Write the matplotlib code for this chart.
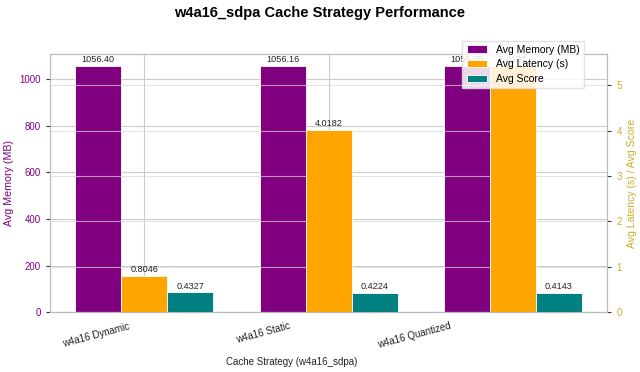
import matplotlib
matplotlib.use("Agg")
import matplotlib.pyplot as plt
import numpy as np

plt.rcParams['font.family'] = ['Liberation Sans', 'DejaVu Sans']

categories = ["w4a16 Dynamic", "w4a16 Static", "w4a16 Quantized"]
avg_memory = [1056.40, 1056.16, 1056.25]
avg_latency = [0.8046, 4.0182, 5.4194]
avg_score = [0.4327, 0.4224, 0.4143]

c_mem = '#800080'
c_lat = '#FFA500'
c_score = '#008080'
c_right = '#cfae2a'
grid_c = '#cccccc'

fig, ax = plt.subplots(figsize=(6.4, 3.72), dpi=100)
fig.subplots_adjust(left=0.078, right=0.949, top=0.855, bottom=0.161)
ax2 = ax.twinx()

x = np.arange(len(categories))
w = 0.25

b1 = ax.bar(x - w, avg_memory, w, color=c_mem, edgecolor='white', linewidth=0.6, label='Avg Memory (MB)')
b2 = ax2.bar(x, avg_latency, w, color=c_lat, edgecolor='white', linewidth=0.6, label='Avg Latency (s)')
b3 = ax2.bar(x + w, avg_score, w, color=c_score, edgecolor='white', linewidth=0.6, label='Avg Score')

ax.set_ylim(0, max(avg_memory) * 1.05)
ax2.set_ylim(0, max(avg_latency) * 1.05)

for rect, v in zip(b1, avg_memory):
    ax.text(rect.get_x() + rect.get_width() / 2, rect.get_height() + 8, f"{v:.2f}",
            ha='center', va='bottom', fontsize=6.6, color='#222222')
for rect, v in zip(b2, avg_latency):
    ax2.text(rect.get_x() + rect.get_width() / 2, rect.get_height() + 0.04, f"{v:.4f}",
             ha='center', va='bottom', fontsize=6.6, color='#222222')
for rect, v in zip(b3, avg_score):
    ax2.text(rect.get_x() + rect.get_width() / 2, rect.get_height() + 0.04, f"{v:.4f}",
             ha='center', va='bottom', fontsize=6.6, color='#222222')

ax.set_axisbelow(True)
ax2.set_axisbelow(True)
ax.grid(True, color=grid_c, linewidth=0.8)
ax2.grid(True, axis='y', color='#d8d8d8', linewidth=0.8, alpha=0.7)

ax.set_xticks(x)
ax.set_xticklabels([''] * len(categories))
xform = ax.get_xaxis_transform()
for i, (xi, cat) in enumerate(zip(x, categories)):
    ax.annotate(cat, xy=(xi, 0), xycoords=xform,
                xytext=(-14 - 23.5 * i, -9), textcoords='offset pixels',
                ha='right', va='top', rotation=15, fontsize=7, color='#222222',
                annotation_clip=False)

ax.set_xlabel("Cache Strategy (w4a16_sdpa)", fontsize=7, color='#222222')
ax.xaxis.set_label_coords(0.4335, -0.172)
ax.set_ylabel("Avg Memory (MB)", fontsize=7.7, color=c_mem)
ax2.set_ylabel("Avg Latency (s) / Avg Score", fontsize=7.6, color=c_right)
ax.tick_params(axis='y', labelsize=7, colors=c_mem, length=3)
ax.tick_params(axis='y', color='#333333')
ax.tick_params(axis='x', length=0)
ax2.tick_params(axis='y', labelsize=7, colors=c_right, length=3)
ax2.tick_params(axis='y', color='#333333')

for a in (ax, ax2):
    for s in a.spines.values():
        s.set_color('#bbbbbb')
        s.set_linewidth(0.8)

fig.suptitle("w4a16_sdpa Cache Strategy Performance", fontsize=10.5, fontweight='bold', y=0.983)

h1, l1 = ax.get_legend_handles_labels()
h2, l2 = ax2.get_legend_handles_labels()
fig.legend(h1 + h2, l1 + l2, loc='upper right', bbox_to_anchor=(0.92, 0.905),
           fontsize=7.5, framealpha=0.85, edgecolor='#dddddd', fancybox=False,
           labelspacing=0.45)

fig.savefig("out.png", dpi=100)
